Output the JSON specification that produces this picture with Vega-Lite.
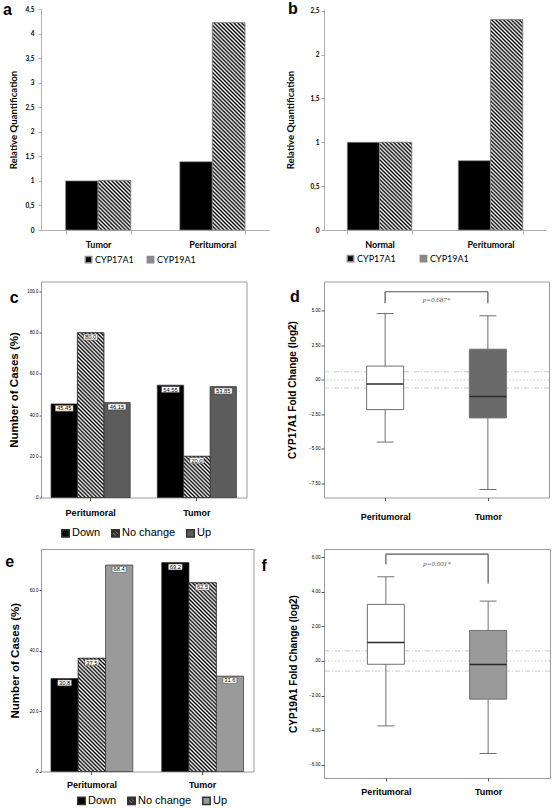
{
"$schema": "https://vega.github.io/schema/vega-lite/v6.json",
"background": "white",
"padding": {"left": 2, "top": 0, "right": 0, "bottom": 0},
"params": [{"name": "hatch", "value": {"gradient": "linear", "x1": 0, "y1": 1, "x2": 1, "y2": 0, "stops": [{"offset":0,"color":"#000"},{"offset":0.0081,"color":"#fff"},{"offset":0.0161,"color":"#000"},{"offset":0.0242,"color":"#fff"},{"offset":0.0323,"color":"#000"},{"offset":0.0403,"color":"#fff"},{"offset":0.0484,"color":"#000"},{"offset":0.0565,"color":"#fff"},{"offset":0.0645,"color":"#000"},{"offset":0.0726,"color":"#fff"},{"offset":0.0806,"color":"#000"},{"offset":0.0887,"color":"#fff"},{"offset":0.0968,"color":"#000"},{"offset":0.1048,"color":"#fff"},{"offset":0.1129,"color":"#000"},{"offset":0.121,"color":"#fff"},{"offset":0.129,"color":"#000"},{"offset":0.1371,"color":"#fff"},{"offset":0.1452,"color":"#000"},{"offset":0.1532,"color":"#fff"},{"offset":0.1613,"color":"#000"},{"offset":0.1694,"color":"#fff"},{"offset":0.1774,"color":"#000"},{"offset":0.1855,"color":"#fff"},{"offset":0.1935,"color":"#000"},{"offset":0.2016,"color":"#fff"},{"offset":0.2097,"color":"#000"},{"offset":0.2177,"color":"#fff"},{"offset":0.2258,"color":"#000"},{"offset":0.2339,"color":"#fff"},{"offset":0.2419,"color":"#000"},{"offset":0.25,"color":"#fff"},{"offset":0.2581,"color":"#000"},{"offset":0.2661,"color":"#fff"},{"offset":0.2742,"color":"#000"},{"offset":0.2823,"color":"#fff"},{"offset":0.2903,"color":"#000"},{"offset":0.2984,"color":"#fff"},{"offset":0.3065,"color":"#000"},{"offset":0.3145,"color":"#fff"},{"offset":0.3226,"color":"#000"},{"offset":0.3306,"color":"#fff"},{"offset":0.3387,"color":"#000"},{"offset":0.3468,"color":"#fff"},{"offset":0.3548,"color":"#000"},{"offset":0.3629,"color":"#fff"},{"offset":0.371,"color":"#000"},{"offset":0.379,"color":"#fff"},{"offset":0.3871,"color":"#000"},{"offset":0.3952,"color":"#fff"},{"offset":0.4032,"color":"#000"},{"offset":0.4113,"color":"#fff"},{"offset":0.4194,"color":"#000"},{"offset":0.4274,"color":"#fff"},{"offset":0.4355,"color":"#000"},{"offset":0.4435,"color":"#fff"},{"offset":0.4516,"color":"#000"},{"offset":0.4597,"color":"#fff"},{"offset":0.4677,"color":"#000"},{"offset":0.4758,"color":"#fff"},{"offset":0.4839,"color":"#000"},{"offset":0.4919,"color":"#fff"},{"offset":0.5,"color":"#000"},{"offset":0.5081,"color":"#fff"},{"offset":0.5161,"color":"#000"},{"offset":0.5242,"color":"#fff"},{"offset":0.5323,"color":"#000"},{"offset":0.5403,"color":"#fff"},{"offset":0.5484,"color":"#000"},{"offset":0.5565,"color":"#fff"},{"offset":0.5645,"color":"#000"},{"offset":0.5726,"color":"#fff"},{"offset":0.5806,"color":"#000"},{"offset":0.5887,"color":"#fff"},{"offset":0.5968,"color":"#000"},{"offset":0.6048,"color":"#fff"},{"offset":0.6129,"color":"#000"},{"offset":0.621,"color":"#fff"},{"offset":0.629,"color":"#000"},{"offset":0.6371,"color":"#fff"},{"offset":0.6452,"color":"#000"},{"offset":0.6532,"color":"#fff"},{"offset":0.6613,"color":"#000"},{"offset":0.6694,"color":"#fff"},{"offset":0.6774,"color":"#000"},{"offset":0.6855,"color":"#fff"},{"offset":0.6935,"color":"#000"},{"offset":0.7016,"color":"#fff"},{"offset":0.7097,"color":"#000"},{"offset":0.7177,"color":"#fff"},{"offset":0.7258,"color":"#000"},{"offset":0.7339,"color":"#fff"},{"offset":0.7419,"color":"#000"},{"offset":0.75,"color":"#fff"},{"offset":0.7581,"color":"#000"},{"offset":0.7661,"color":"#fff"},{"offset":0.7742,"color":"#000"},{"offset":0.7823,"color":"#fff"},{"offset":0.7903,"color":"#000"},{"offset":0.7984,"color":"#fff"},{"offset":0.8065,"color":"#000"},{"offset":0.8145,"color":"#fff"},{"offset":0.8226,"color":"#000"},{"offset":0.8306,"color":"#fff"},{"offset":0.8387,"color":"#000"},{"offset":0.8468,"color":"#fff"},{"offset":0.8548,"color":"#000"},{"offset":0.8629,"color":"#fff"},{"offset":0.871,"color":"#000"},{"offset":0.879,"color":"#fff"},{"offset":0.8871,"color":"#000"},{"offset":0.8952,"color":"#fff"},{"offset":0.9032,"color":"#000"},{"offset":0.9113,"color":"#fff"},{"offset":0.9194,"color":"#000"},{"offset":0.9274,"color":"#fff"},{"offset":0.9355,"color":"#000"},{"offset":0.9435,"color":"#fff"},{"offset":0.9516,"color":"#000"},{"offset":0.9597,"color":"#fff"},{"offset":0.9677,"color":"#000"},{"offset":0.9758,"color":"#fff"},{"offset":0.9839,"color":"#000"},{"offset":0.9919,"color":"#fff"},{"offset":1,"color":"#000"}]}}],
"config": {
  "view": {"stroke": null},
  "font": "Liberation Sans",
  "axis": {"grid": false, "labelColor": "#000", "titleColor": "#000", "labelOverlap": false},
  "legend": {"labelColor": "#000"},
  "title": {"anchor": "start", "frame": "bounds", "baseline": "top", "offset": -21, "fontSize": 16, "font": "Liberation Sans", "fontWeight": "bold", "color": "#000"}
},
"datasets": {
  "qa": [{"tissue":"Tumor","gene":"CYP17A1","value":1.0},{"tissue":"Tumor","gene":"CYP19A1","value":1.01},{"tissue":"Peritumoral","gene":"CYP17A1","value":1.39},{"tissue":"Peritumoral","gene":"CYP19A1","value":4.22}],
  "qb": [{"tissue":"Normal","gene":"CYP17A1","value":1.0},{"tissue":"Normal","gene":"CYP19A1","value":1.0},{"tissue":"Peritumoral","gene":"CYP17A1","value":0.79},{"tissue":"Peritumoral","gene":"CYP19A1","value":2.4}],
  "cc": [{"tissue":"Peritumoral","change":"Down","pct":45.45,"label":"45.45"},{"tissue":"Peritumoral","change":"No change","pct":80.0,"label":"80.0"},{"tissue":"Peritumoral","change":"Up","pct":46.15,"label":"46.15"},{"tissue":"Tumor","change":"Down","pct":54.55,"label":"54.55"},{"tissue":"Tumor","change":"No change","pct":20.0,"label":"20.0"},{"tissue":"Tumor","change":"Up","pct":53.85,"label":"53.85"}],
  "ce": [{"tissue":"Peritumoral","change":"Down","pct":30.8,"label":"30.8"},{"tissue":"Peritumoral","change":"No change","pct":37.5,"label":"37.5"},{"tissue":"Peritumoral","change":"Up","pct":68.4,"label":"68.4"},{"tissue":"Tumor","change":"Down","pct":69.2,"label":"69.2"},{"tissue":"Tumor","change":"No change","pct":62.5,"label":"62.5"},{"tissue":"Tumor","change":"Up","pct":31.6,"label":"31.6"}],
  "bd": [{"tissue":"Peritumoral","lo":-4.5,"q1":-2.15,"med":-0.3,"q3":1.0,"hi":4.8},{"tissue":"Tumor","lo":-7.93,"q1":-2.75,"med":-1.2,"q3":2.22,"hi":4.64}],
  "bf": [{"tissue":"Peritumoral","lo":-3.76,"q1":-0.19,"med":1.07,"q3":3.28,"hi":4.88},{"tissue":"Tumor","lo":-5.36,"q1":-2.21,"med":-0.2,"q3":1.77,"hi":3.47}],
  "fold": [{"level":0.585},{"level":-0.585}],
  "zero": [{"level":0}],
  "hd": [{"from":"Peritumoral","to":"Tumor","level":6.38}],
  "vd": [{"tissue":"Peritumoral","lo":5.55,"hi":6.38},{"tissue":"Tumor","lo":5.55,"hi":6.38}],
  "pd": [{"text":"p=0.687*","level":5.75}],
  "hf": [{"from":"Peritumoral","to":"Tumor","level":6.19}],
  "vf": [{"tissue":"Peritumoral","lo":5.61,"hi":6.19},{"tissue":"Tumor","lo":4.49,"hi":6.19}],
  "pf": [{"text":"p=0.001*","level":5.6}]
},
"columns": 2,
"bounds": "flush",
"align": "each",
"spacing": {"row": 51.5, "column": 54},
"resolve": {"scale": {"x": "independent", "y": "independent", "color": "independent", "fill": "independent", "shape": "independent", "xOffset": "independent"}, "legend": {"color": "independent", "fill": "independent", "shape": "independent"}},
"concat": [
   {
    "width": 228.5, "height": 221,
    "title": {"text": "a", "dx": -6, "dy": -9},
    "data": {"name": "qa"},
    "encoding": {
      "x": {"field": "tissue", "type": "nominal", "sort": ["Tumor", "Peritumoral"], "scale": {"paddingInner": 0.43, "paddingOuter": 0.215}, "axis": {"title": null, "labelAngle": 0, "labelFont": "Lato", "labelFontSize": 9, "labelFontWeight": "bold", "domainColor": "#b0b0b0", "tickColor": "#b0b0b0", "tickBand": "extent", "tickSize": 4, "labelPadding": 6}},
      "xOffset": {"field": "gene", "type": "nominal", "sort": ["CYP17A1", "CYP19A1"]},
      "y": {"field": "value", "type": "quantitative", "stack": null, "scale": {"domain": [0, 4.5], "nice": false}, "axis": {"title": "Relative Quantification", "titleFont": "Lato", "titleFontSize": 9.6, "titleFontWeight": "bold", "titlePadding": 6, "values": [0, 0.5, 1, 1.5, 2, 2.5, 3, 3.5, 4, 4.5], "labelExpr": "replace(format(datum.value, '~g'), '.', ',')", "labelFont": "Lato", "labelFontSize": 6.5, "labelFontWeight": "bold", "domainColor": "#b0b0b0", "tickColor": "#b0b0b0", "tickSize": 3, "labelPadding": 4, "labelOverlap": false}},
      "color": {"field": "gene", "type": "nominal", "scale": {"domain": ["CYP17A1", "CYP19A1"], "range": ["#000000", "#000000"]},
         "legend": {"title": null, "orient": "none", "legendX": 43, "legendY": 246, "direction": "horizontal", "symbolSize": 40, "labelFont": "Lato", "labelFontSize": 9, "labelOffset": 2, "columnPadding": 10, "padding": 0}}
    },
    "layer": [
      {"mark": {"type": "bar", "stroke": "#8a8a8a", "strokeWidth": 0.7, "opacity": 1}},
      {"mark": {"type": "point", "filled": true, "opacity": 0},
       "encoding": {"shape": {"field": "gene", "type": "nominal", "scale": {"domain": ["CYP17A1", "CYP19A1"], "range": ["square", "M-1,-1H1V1H-1Z M-0.8,-0.8V0.8H0.8V-0.8Z M-0.82,-1L1,0.82L1,1L0.82,1L-1,-0.82L-1,-1Z M-1,-0.18L0.18,1L-0.18,1L-1,0.18Z M-0.18,-1L0.18,-1L1,-0.18L1,0.18Z"]},
         "legend": {"title": null, "orient": "none", "legendX": 43, "legendY": 246, "direction": "horizontal", "symbolSize": 40, "labelFont": "Lato", "labelFontSize": 9, "labelOffset": 2, "columnPadding": 10, "padding": 0}}}},
      {"transform": [{"filter": "datum.tissue == 'Tumor' && datum.gene == 'CYP19A1'"}],
       "mark": {"type": "bar", "fill": {"expr": "merge(hatch, {x2: 2.248, y2: -2.43})"}, "stroke": "#8a8a8a", "strokeWidth": 0.7, "opacity": 1}},
      {"transform": [{"filter": "datum.tissue == 'Peritumoral' && datum.gene == 'CYP19A1'"}],
       "mark": {"type": "bar", "fill": {"expr": "merge(hatch, {x2: 0.1812, y2: -0.1503})"}, "stroke": "#8a8a8a", "strokeWidth": 0.7, "opacity": 1}}
    ]
   },
   {
    "width": 222, "height": 221,
    "title": {"text": "b", "dx": 2, "dy": -12},
    "data": {"name": "qb"},
    "encoding": {
      "x": {"field": "tissue", "type": "nominal", "sort": ["Normal", "Peritumoral"], "scale": {"paddingInner": 0.42, "paddingOuter": 0.21}, "axis": {"title": null, "labelAngle": 0, "labelFont": "Lato", "labelFontSize": 9, "labelFontWeight": "bold", "domainColor": "#b0b0b0", "tickColor": "#b0b0b0", "tickBand": "extent", "tickSize": 4, "labelPadding": 6}},
      "xOffset": {"field": "gene", "type": "nominal", "sort": ["CYP17A1", "CYP19A1"]},
      "y": {"field": "value", "type": "quantitative", "stack": null, "scale": {"domain": [0, 2.52], "nice": false}, "axis": {"title": "Relative Quantification", "titleFont": "Lato", "titleFontSize": 9.6, "titleFontWeight": "bold", "titlePadding": 14, "values": [0, 0.5, 1, 1.5, 2, 2.5], "labelExpr": "replace(format(datum.value, '~g'), '.', ',')", "labelFont": "Lato", "labelFontSize": 6.5, "labelFontWeight": "bold", "domainColor": "#b0b0b0", "tickColor": "#b0b0b0", "tickSize": 3, "labelPadding": 2, "labelOverlap": false}},
      "color": {"field": "gene", "type": "nominal", "scale": {"domain": ["CYP17A1", "CYP19A1"], "range": ["#000000", "#000000"]},
         "legend": {"title": null, "orient": "none", "legendX": 22, "legendY": 245, "direction": "horizontal", "symbolSize": 40, "labelFont": "Lato", "labelFontSize": 9, "labelOffset": 2, "columnPadding": 21, "padding": 0}}
    },
    "layer": [
      {"mark": {"type": "bar", "stroke": "#8a8a8a", "strokeWidth": 0.7, "opacity": 1}},
      {"mark": {"type": "point", "filled": true, "opacity": 0},
       "encoding": {"shape": {"field": "gene", "type": "nominal", "scale": {"domain": ["CYP17A1", "CYP19A1"], "range": ["square", "M-1,-1H1V1H-1Z M-0.8,-0.8V0.8H0.8V-0.8Z M-0.82,-1L1,0.82L1,1L0.82,1L-1,-0.82L-1,-1Z M-1,-0.18L0.18,1L-0.18,1L-1,0.18Z M-0.18,-1L0.18,-1L1,-0.18L1,0.18Z"]},
         "legend": {"title": null, "orient": "none", "legendX": 22, "legendY": 245, "direction": "horizontal", "symbolSize": 40, "labelFont": "Lato", "labelFontSize": 9, "labelOffset": 2, "columnPadding": 21, "padding": 0}}}},
      {"transform": [{"filter": "datum.tissue == 'Normal' && datum.gene == 'CYP19A1'"}],
       "mark": {"type": "bar", "fill": {"expr": "merge(hatch, {x2: 0.8876, y2: -1.441})"}, "stroke": "#8a8a8a", "strokeWidth": 0.7, "opacity": 1}},
      {"transform": [{"filter": "datum.tissue == 'Peritumoral' && datum.gene == 'CYP19A1'"}],
       "mark": {"type": "bar", "fill": {"expr": "merge(hatch, {x2: 0.1709, y2: -0.1267})"}, "stroke": "#8a8a8a", "strokeWidth": 0.7, "opacity": 1}}
    ]
   },
   {
    "width": 205.5, "height": 216,
    "view": {"stroke": "#9a9a9a", "strokeWidth": 1},
    "title": {"text": "c", "dx": 1, "dy": 3.5},
    "data": {"name": "cc"},
    "encoding": {
      "x": {"field": "tissue", "type": "nominal", "sort": ["Peritumoral", "Tumor"], "scale": {"paddingInner": 0.255, "paddingOuter": 0.0945}, "axis": {"title": null, "labelAngle": 0, "labelFontSize": 9, "labelFontWeight": "bold", "domain": false, "tickSize": 3, "tickColor": "#555", "labelPadding": 8}},
      "xOffset": {"field": "change", "type": "nominal", "sort": ["Down", "No change", "Up"]},
      "y": {"field": "pct", "type": "quantitative", "stack": null, "scale": {"domain": [0, 104.9], "nice": false}, "axis": {"title": "Number of Cases (%)", "titleFontSize": 11.5, "titleFontWeight": "bold", "titlePadding": 7, "values": [0, 20, 40, 60, 80, 100], "labelExpr": "datum.value == 0 ? '.0' : format(datum.value, '.1f')", "labelFontSize": 4.5, "domain": false, "tickSize": 2, "tickColor": "#555", "labelPadding": 1, "labelOverlap": false}},
      "color": {"field": "change", "type": "nominal", "scale": {"domain": ["Down", "No change", "Up"], "range": ["#000000", "#000000", "#5c5c5c"]},
         "legend": {"title": null, "orient": "none", "legendX": 19, "legendY": 246, "direction": "horizontal", "symbolSize": 56, "labelFont": "Liberation Sans", "labelFontSize": 11, "labelOffset": 1, "columnPadding": 7, "padding": 0}}
    },
    "layer": [
      {"mark": {"type": "bar", "stroke": "#333", "strokeWidth": 0.7, "opacity": 1}},
      {"mark": {"type": "point", "filled": true, "opacity": 0},
       "encoding": {"shape": {"field": "change", "type": "nominal", "scale": {"domain": ["Down", "No change", "Up"], "range": ["square", "M-1,-1H1V1H-1Z M-0.8,-0.8V0.8H0.8V-0.8Z M-0.82,-1L1,0.82L1,1L0.82,1L-1,-0.82L-1,-1Z M-1,-0.18L0.18,1L-0.18,1L-1,0.18Z M-0.18,-1L0.18,-1L1,-0.18L1,0.18Z", "square"]},
         "legend": {"title": null, "orient": "none", "legendX": 19, "legendY": 246, "direction": "horizontal", "symbolSize": 56, "labelFont": "Liberation Sans", "labelFontSize": 11, "labelOffset": 1, "columnPadding": 7, "padding": 0}}}},
      {"transform": [{"filter": "datum.tissue == 'Peritumoral' && datum.change == 'No change'"}],
       "mark": {"type": "bar", "fill": {"expr": "merge(hatch, {x2: 0.231, y2: -0.4377})"}, "stroke": "#333", "strokeWidth": 0.7, "opacity": 1}},
      {"transform": [{"filter": "datum.tissue == 'Tumor' && datum.change == 'No change'"}],
       "mark": {"type": "bar", "fill": {"expr": "merge(hatch, {x2: 2.686, y2: -3.1755})"}, "stroke": "#333", "strokeWidth": 0.7, "opacity": 1}},
      {"transform": [{"filter": "length(datum.label) > 4"}],
       "mark": {"type": "point", "shape": "M-1,0.15H1V0.82H-1Z", "size": 324, "filled": true, "fill": "#fff", "stroke": "#333", "strokeWidth": 0.5, "opacity": 1}},
      {"transform": [{"filter": "length(datum.label) <= 4"}],
       "mark": {"type": "point", "shape": "M-1,0.19H1V1.05H-1Z", "size": 196, "filled": true, "fill": "#fff", "stroke": "#333", "strokeWidth": 0.5, "opacity": 1}},
      {"mark": {"type": "text", "fontSize": 5.8, "dy": 4.4, "fill": "#000"}, "encoding": {"text": {"field": "label"}}}
    ]
   },
   {
    "width": 225, "height": 216,
    "view": {"stroke": "#9a9a9a", "strokeWidth": 1},
    "title": {"text": "d", "dx": 2.5, "dy": 2},
    "layer": [
      {"data": {"name": "fold"}, "mark": {"type": "rule", "stroke": "#bdbdbd", "strokeWidth": 0.8, "strokeDash": [5, 2, 1, 2]},
       "encoding": {"y": {"field": "level", "type": "quantitative", "scale": {"domain": [-8.51, 7.12], "nice": false, "zero": false}, "axis": {"title": "CYP17A1 Fold Change (log2)", "titleFontSize": 10, "titleFontWeight": "bold", "titlePadding": 11, "values": [-7.5, -5, -2.5, 0, 2.5, 5], "labelExpr": "datum.value == 0 ? '.00' : format(datum.value, '.2f')", "labelFontSize": 4.5, "domain": false, "tickSize": 3, "tickColor": "#555", "labelPadding": 1, "labelOverlap": false}}}},
      {"data": {"name": "zero"}, "mark": {"type": "rule", "stroke": "#bdbdbd", "strokeWidth": 0.8, "strokeDash": [1.5, 2]},
       "encoding": {"y": {"field": "level", "type": "quantitative"}}},
      {"data": {"name": "bd"}, "mark": {"type": "rule", "stroke": "#707070", "strokeWidth": 1},
       "encoding": {"x": {"field": "tissue", "type": "nominal", "sort": ["Peritumoral", "Tumor"], "scale": {"type": "point", "padding": 0.595}, "axis": {"title": null, "labelAngle": 0, "labelFontSize": 9, "labelFontWeight": "bold", "domain": false, "tickSize": 3, "tickColor": "#555", "labelPadding": 11.5}},
                    "y": {"field": "lo", "type": "quantitative"}, "y2": {"field": "hi"}}},
      {"data": {"name": "bd"}, "mark": {"type": "tick", "color": "#707070", "size": 17, "thickness": 1, "opacity": 1},
       "encoding": {"x": {"field": "tissue", "type": "nominal", "sort": ["Peritumoral", "Tumor"]}, "y": {"field": "lo", "type": "quantitative"}}},
      {"data": {"name": "bd"}, "mark": {"type": "tick", "color": "#707070", "size": 17, "thickness": 1, "opacity": 1},
       "encoding": {"x": {"field": "tissue", "type": "nominal", "sort": ["Peritumoral", "Tumor"]}, "y": {"field": "hi", "type": "quantitative"}}},
      {"data": {"name": "bd"}, "mark": {"type": "bar", "size": 37, "stroke": "#707070", "strokeWidth": 1, "opacity": 1},
       "encoding": {"x": {"field": "tissue", "type": "nominal", "sort": ["Peritumoral", "Tumor"]}, "y": {"field": "q1", "type": "quantitative"}, "y2": {"field": "q3"},
                    "fill": {"field": "tissue", "type": "nominal", "scale": {"domain": ["Peritumoral", "Tumor"], "range": ["#ffffff", "#6a6a6a"]}, "legend": null}}},
      {"data": {"name": "bd"}, "mark": {"type": "tick", "color": "#2a2a2a", "size": 37, "thickness": 1.6, "opacity": 1},
       "encoding": {"x": {"field": "tissue", "type": "nominal", "sort": ["Peritumoral", "Tumor"]}, "y": {"field": "med", "type": "quantitative"}}},
      {"data": {"name": "hd"}, "mark": {"type": "rule", "stroke": "#555", "strokeWidth": 1.2},
       "encoding": {"x": {"field": "from", "type": "nominal", "sort": ["Peritumoral", "Tumor"]}, "x2": {"field": "to"}, "y": {"field": "level", "type": "quantitative"}}},
      {"data": {"name": "vd"}, "mark": {"type": "rule", "stroke": "#555", "strokeWidth": 1.2},
       "encoding": {"x": {"field": "tissue", "type": "nominal", "sort": ["Peritumoral", "Tumor"]}, "y": {"field": "lo", "type": "quantitative"}, "y2": {"field": "hi"}}},
      {"data": {"name": "pd"}, "mark": {"type": "text", "font": "Liberation Serif", "fontStyle": "italic", "fontSize": 7, "color": "#555"},
       "encoding": {"y": {"field": "level", "type": "quantitative"}, "text": {"field": "text"}}}
    ]
   },
   {
    "width": 212.5, "height": 222.5,
    "view": {"stroke": "#9a9a9a", "strokeWidth": 1},
    "title": {"text": "e", "dx": -4, "dy": 0},
    "data": {"name": "ce"},
    "encoding": {
      "x": {"field": "tissue", "type": "nominal", "sort": ["Peritumoral", "Tumor"], "scale": {"paddingInner": 0.261, "paddingOuter": 0.09}, "axis": {"title": null, "labelAngle": 0, "labelFontSize": 9, "labelFontWeight": "bold", "domain": false, "tickSize": 3, "tickColor": "#555", "labelPadding": 6}},
      "xOffset": {"field": "change", "type": "nominal", "sort": ["Down", "No change", "Up"]},
      "y": {"field": "pct", "type": "quantitative", "stack": null, "scale": {"domain": [0, 73.7], "nice": false}, "axis": {"title": "Number of Cases (%)", "titleFontSize": 11.5, "titleFontWeight": "bold", "titlePadding": 9, "values": [0, 20, 40, 60], "labelExpr": "datum.value == 0 ? '.0' : format(datum.value, '.1f')", "labelFontSize": 4.5, "domain": false, "tickSize": 2, "tickColor": "#555", "labelPadding": 1, "labelOverlap": false}},
      "color": {"field": "change", "type": "nominal", "scale": {"domain": ["Down", "No change", "Up"], "range": ["#000000", "#000000", "#9a9a9a"]},
         "legend": {"title": null, "orient": "none", "legendX": 35, "legendY": 246, "direction": "horizontal", "symbolSize": 56, "labelFont": "Liberation Sans", "labelFontSize": 11, "labelOffset": 1, "columnPadding": 7, "padding": 0}}
    },
    "layer": [
      {"mark": {"type": "bar", "stroke": "#333", "strokeWidth": 0.7, "opacity": 1}},
      {"mark": {"type": "point", "filled": true, "opacity": 0},
       "encoding": {"shape": {"field": "change", "type": "nominal", "scale": {"domain": ["Down", "No change", "Up"], "range": ["square", "M-1,-1H1V1H-1Z M-0.8,-0.8V0.8H0.8V-0.8Z M-0.82,-1L1,0.82L1,1L0.82,1L-1,-0.82L-1,-1Z M-1,-0.18L0.18,1L-0.18,1L-1,0.18Z M-0.18,-1L0.18,-1L1,-0.18L1,0.18Z", "square"]},
         "legend": {"title": null, "orient": "none", "legendX": 35, "legendY": 246, "direction": "horizontal", "symbolSize": 56, "labelFont": "Liberation Sans", "labelFontSize": 11, "labelOffset": 1, "columnPadding": 7, "padding": 0}}}},
      {"transform": [{"filter": "datum.tissue == 'Peritumoral' && datum.change == 'No change'"}],
       "mark": {"type": "bar", "fill": {"expr": "merge(hatch, {x2: 0.4888, y2: -1.0287})"}, "stroke": "#333", "strokeWidth": 0.7, "opacity": 1}},
      {"transform": [{"filter": "datum.tissue == 'Tumor' && datum.change == 'No change'"}],
       "mark": {"type": "bar", "fill": {"expr": "merge(hatch, {x2: 0.1824, y2: -0.2618})"}, "stroke": "#333", "strokeWidth": 0.7, "opacity": 1}},
      {"mark": {"type": "point", "shape": "M-1,0.19H1V1.05H-1Z", "size": 196, "filled": true, "fill": "#fff", "stroke": "#333", "strokeWidth": 0.5, "opacity": 1}},
      {"mark": {"type": "text", "fontSize": 5.8, "dy": 4.4, "fill": "#000"}, "encoding": {"text": {"field": "label"}}}
    ]
   },
   {
    "width": 226, "height": 229,
    "view": {"stroke": "#9a9a9a", "strokeWidth": 1},
    "title": {"text": "f", "dx": -27, "dy": 4},
    "layer": [
      {"data": {"name": "fold"}, "mark": {"type": "rule", "stroke": "#bdbdbd", "strokeWidth": 0.8, "strokeDash": [5, 2, 1, 2]},
       "encoding": {"y": {"field": "level", "type": "quantitative", "scale": {"domain": [-6.78, 6.49], "nice": false, "zero": false}, "axis": {"title": "CYP19A1 Fold Change (log2)", "titleFontSize": 10, "titleFontWeight": "bold", "titlePadding": 10, "values": [-6, -4, -2, 0, 2, 4, 6], "tickCount": 7, "labelExpr": "datum.value == 0 ? '.00' : format(datum.value, '.2f')", "labelFontSize": 4.5, "domain": false, "tickSize": 3, "tickColor": "#555", "labelPadding": 1, "labelOverlap": false, "labelFlush": false, "labelBound": false, "labelSeparation": 0}}}},
      {"data": {"name": "zero"}, "mark": {"type": "rule", "stroke": "#bdbdbd", "strokeWidth": 0.8, "strokeDash": [1.5, 2]},
       "encoding": {"y": {"field": "level", "type": "quantitative", "axis": {"labelOverlap": false, "values": [-6, -4, -2, 0, 2, 4, 6]}}}},
      {"data": {"name": "bf"}, "mark": {"type": "rule", "stroke": "#707070", "strokeWidth": 1},
       "encoding": {"x": {"field": "tissue", "type": "nominal", "sort": ["Peritumoral", "Tumor"], "scale": {"type": "point", "padding": 0.605}, "axis": {"title": null, "labelAngle": 0, "labelFontSize": 9, "labelFontWeight": "bold", "domain": false, "tickSize": 3, "tickColor": "#555", "labelPadding": 6}},
                    "y": {"field": "lo", "type": "quantitative"}, "y2": {"field": "hi"}}},
      {"data": {"name": "bf"}, "mark": {"type": "tick", "color": "#707070", "size": 17, "thickness": 1, "opacity": 1},
       "encoding": {"x": {"field": "tissue", "type": "nominal", "sort": ["Peritumoral", "Tumor"]}, "y": {"field": "lo", "type": "quantitative"}}},
      {"data": {"name": "bf"}, "mark": {"type": "tick", "color": "#707070", "size": 17, "thickness": 1, "opacity": 1},
       "encoding": {"x": {"field": "tissue", "type": "nominal", "sort": ["Peritumoral", "Tumor"]}, "y": {"field": "hi", "type": "quantitative"}}},
      {"data": {"name": "bf"}, "mark": {"type": "bar", "size": 37, "stroke": "#707070", "strokeWidth": 1, "opacity": 1},
       "encoding": {"x": {"field": "tissue", "type": "nominal", "sort": ["Peritumoral", "Tumor"]}, "y": {"field": "q1", "type": "quantitative"}, "y2": {"field": "q3"},
                    "fill": {"field": "tissue", "type": "nominal", "scale": {"domain": ["Peritumoral", "Tumor"], "range": ["#ffffff", "#9a9a9a"]}, "legend": null}}},
      {"data": {"name": "bf"}, "mark": {"type": "tick", "color": "#2a2a2a", "size": 37, "thickness": 1.6, "opacity": 1},
       "encoding": {"x": {"field": "tissue", "type": "nominal", "sort": ["Peritumoral", "Tumor"]}, "y": {"field": "med", "type": "quantitative"}}},
      {"data": {"name": "hf"}, "mark": {"type": "rule", "stroke": "#555", "strokeWidth": 1.2},
       "encoding": {"x": {"field": "from", "type": "nominal", "sort": ["Peritumoral", "Tumor"]}, "x2": {"field": "to"}, "y": {"field": "level", "type": "quantitative"}}},
      {"data": {"name": "vf"}, "mark": {"type": "rule", "stroke": "#555", "strokeWidth": 1.2},
       "encoding": {"x": {"field": "tissue", "type": "nominal", "sort": ["Peritumoral", "Tumor"]}, "y": {"field": "lo", "type": "quantitative"}, "y2": {"field": "hi"}}},
      {"data": {"name": "pf"}, "mark": {"type": "text", "font": "Liberation Serif", "fontStyle": "italic", "fontSize": 7, "color": "#555"},
       "encoding": {"y": {"field": "level", "type": "quantitative"}, "text": {"field": "text"}}}
    ]
   }
]
}
